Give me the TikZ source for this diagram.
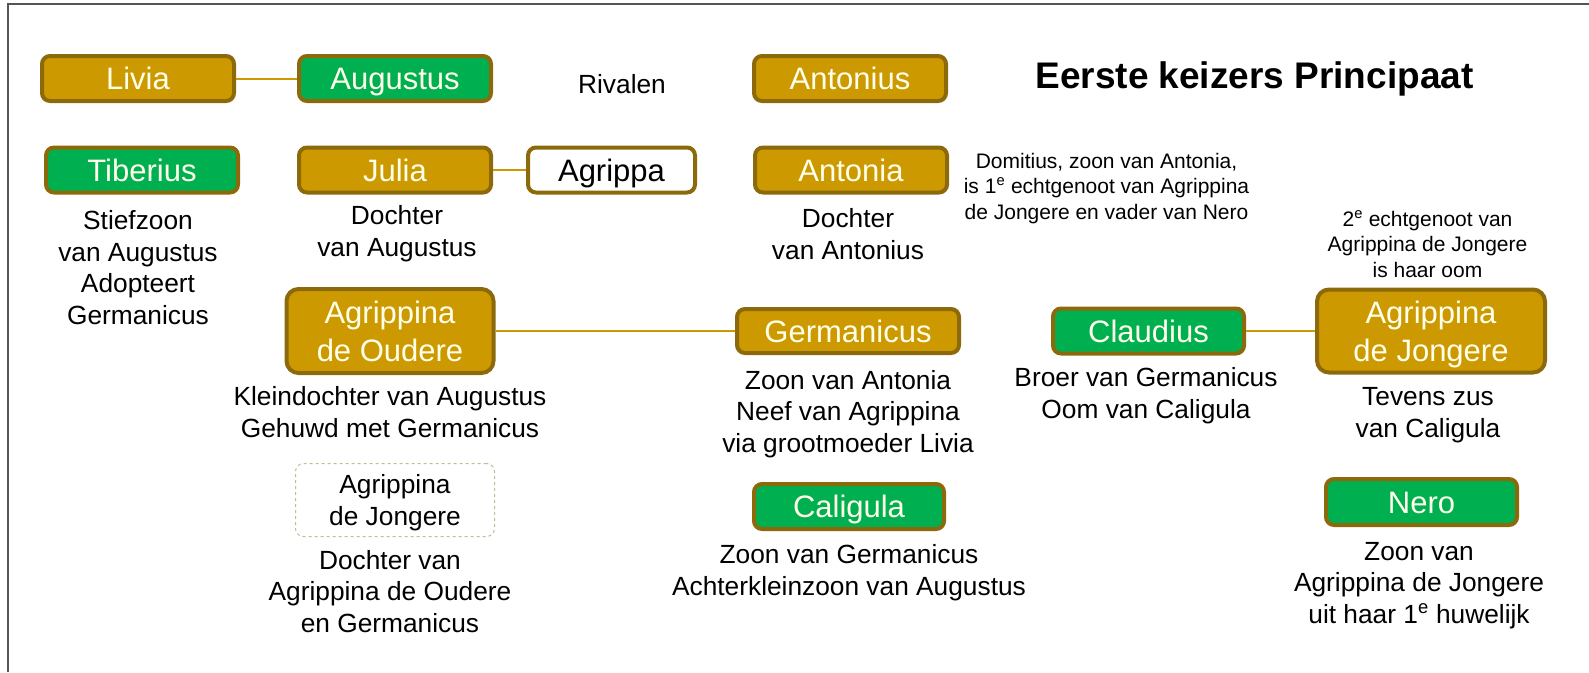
\documentclass[tikz,border=0pt]{standalone}
\usepackage{fontspec}
\setmainfont{Liberation Sans}
\usepackage{tikz}
\usetikzlibrary{positioning}
\definecolor{goldfill}{RGB}{204,153,0}
\definecolor{goldline}{RGB}{140,106,12}
\definecolor{emgreen}{RGB}{0,176,80}
\definecolor{nametext}{RGB}{255,255,235}
\definecolor{dashline}{RGB}{196,186,150}
\definecolor{framegray}{RGB}{85,85,85}
\newcommand\namefont{\fontsize{31}{38}\selectfont}
\newcommand\notefont{\fontsize{26.3}{31.5}\selectfont}
\newcommand\smallnotefont{\fontsize{21}{25.5}\selectfont}
\newcommand\titlefont{\fontsize{37}{44}\selectfont\bfseries}

\begin{document}
\begin{tikzpicture}[
  x=1pt, y=-1pt,
  person/.style={draw=goldline, line width=4pt, rounded corners=8pt, fill=goldfill, text=nametext, font=\namefont, minimum width=192pt, minimum height=45pt, inner sep=0pt, align=center, text height=22pt, text depth=0pt},
  twoline/.style={text height=60pt, rounded corners=12pt},
  emperor/.style={person, fill=emgreen},
  outsider/.style={person, fill=white, text=black},
  ghost/.style={draw=dashline, dashed, line width=1pt, rounded corners=8pt, font=\notefont, align=center, minimum width=199pt, minimum height=73pt, inner sep=0pt, text depth=0pt},
  note/.style={font=\notefont, align=center, anchor=base, inner sep=0pt},
  smallnote/.style={note, font=\smallnotefont},
  link/.style={draw=goldfill, line width=2pt}
]
  \useasboundingbox (0,0) rectangle (1589,672);
  \draw[framegray, line width=1.5pt] (8,672) -- (8,4) -- (1589,4);

  % Persons
  \node[person] (livia) at (138,78.5) {Livia};
  \node[emperor] (augustus) at (395,78.5) {Augustus};
  \node[person] (antonius) at (850,78.5) {Antonius};
  \node[emperor] (tiberius) at (142,170) {Tiberius};
  \node[person] (julia) at (395,170) {Julia};
  \node[outsider, minimum width=167pt] (agrippa) at (611.5,170) {Agrippa};
  \node[person] (antonia) at (851,170) {Antonia};
  \node[person, twoline, minimum width=207pt, minimum height=84pt] (oudere) at (390,331) {Agrippina\\de Oudere};
  \node[person, minimum width=222pt, minimum height=44pt] (germanicus) at (848,331) {Germanicus};
  \node[emperor, minimum width=191pt] (claudius) at (1148.5,331) {Claudius};
  \node[person, twoline, minimum width=228pt, minimum height=83pt] (jongere) at (1431,331) {Agrippina\\de Jongere};
  \node[emperor, minimum width=190pt] (caligula) at (849,506.5) {Caligula};
  \node[emperor, minimum width=191pt, minimum height=46pt] (nero) at (1421.5,502) {Nero};
  \node[ghost] (jongghost) at (395,500) {Agrippina\\de Jongere};

  % Texts (placed at the baseline of their last line)
  \node[font=\titlefont, anchor=base, inner sep=0pt] (title) at (1254.5,88) {Eerste keizers Principaat};
  \node[note] (rivalen) at (622,93) {Rivalen};
  \node[note] (tiberiusnote) at (138,324) {Stiefzoon\\van Augustus\\Adopteert\\Germanicus};
  \node[note] (julianote) at (397,256) {Dochter\\van Augustus};
  \node[note] (antonianote) at (848,259) {Dochter\\van Antonius};
  \node[smallnote] (domitius) at (1106.5,219) {Domitius, zoon van Antonia,\\is 1\textsuperscript{e} echtgenoot van Agrippina\\de Jongere en vader van Nero};
  \node[smallnote] (oomnote) at (1427.5,277) {2\textsuperscript{e} echtgenoot van\\Agrippina de Jongere\\is haar oom};
  \node[note] (ouderenote) at (390,437) {Kleindochter van Augustus\\Gehuwd met Germanicus};
  \node[note] (ghostnote) at (390,632) {Dochter van\\Agrippina de Oudere\\en Germanicus};
  \node[note] (germanicusnote) at (848,452) {Zoon van Antonia\\Neef van Agrippina\\via grootmoeder Livia};
  \node[note] (caligulanote) at (849,595) {Zoon van Germanicus\\Achterkleinzoon van Augustus};
  \node[note] (claudiusnote) at (1146,418) {Broer van Germanicus\\Oom van Caligula};
  \node[note] (jongerenote) at (1428,437) {Tevens zus\\van Caligula};
  \node[note] (neronote) at (1419,623) {Zoon van\\Agrippina de Jongere\\uit haar 1\textsuperscript{e} huwelijk};

  % Edges
  \draw[link] (livia) -- (augustus);
  \draw[link] (julia) -- (agrippa);
  \draw[link] (oudere) -- (germanicus);
  \draw[link] (claudius) -- (jongere);

\end{tikzpicture}
\end{document}
